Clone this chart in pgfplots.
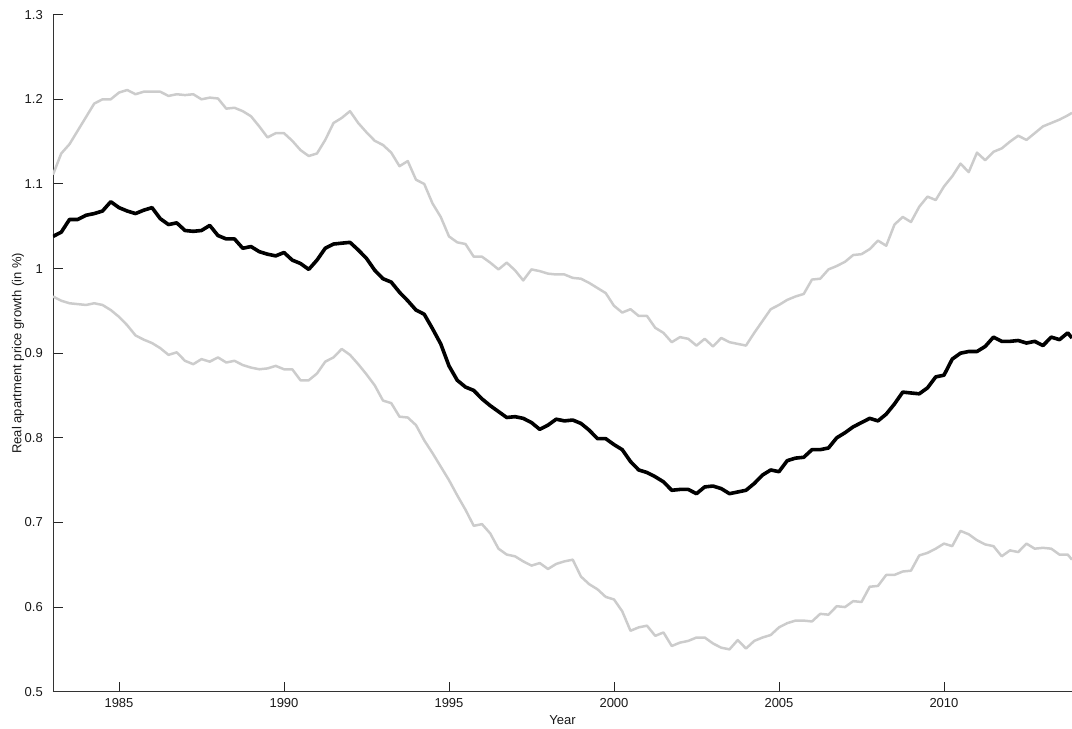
\documentclass[border=0pt]{standalone}
\usepackage{pgfplots}
\pgfplotsset{compat=1.18}
\usepackage{pgfplotstable}
\usepackage{fontspec}
\setmainfont{Liberation Sans}

\definecolor{bandgray}{RGB}{204,204,204}

% quarterly values: lower band, estimate, upper band
\pgfplotstableread{
year     lo     mid    hi
1983.00  0.967  1.038  1.111
1983.25  0.962  1.043  1.136
1983.50  0.959  1.058  1.147
1983.75  0.958  1.058  1.163
1984.00  0.957  1.063  1.179
1984.25  0.959  1.065  1.195
1984.50  0.957  1.068  1.200
1984.75  0.951  1.079  1.200
1985.00  0.943  1.072  1.208
1985.25  0.933  1.068  1.211
1985.50  0.921  1.065  1.206
1985.75  0.916  1.069  1.209
1986.00  0.912  1.072  1.209
1986.25  0.906  1.059  1.209
1986.50  0.898  1.052  1.204
1986.75  0.901  1.054  1.206
1987.00  0.891  1.045  1.205
1987.25  0.887  1.044  1.206
1987.50  0.893  1.045  1.200
1987.75  0.890  1.051  1.202
1988.00  0.895  1.039  1.201
1988.25  0.889  1.035  1.189
1988.50  0.891  1.035  1.190
1988.75  0.886  1.024  1.186
1989.00  0.883  1.026  1.180
1989.25  0.881  1.020  1.168
1989.50  0.882  1.017  1.155
1989.75  0.885  1.015  1.160
1990.00  0.881  1.019  1.160
1990.25  0.881  1.010  1.151
1990.50  0.868  1.006  1.140
1990.75  0.868  0.999  1.133
1991.00  0.876  1.010  1.136
1991.25  0.890  1.024  1.152
1991.50  0.895  1.029  1.172
1991.75  0.905  1.030  1.178
1992.00  0.898  1.031  1.186
1992.25  0.887  1.022  1.172
1992.50  0.875  1.012  1.161
1992.75  0.862  0.998  1.151
1993.00  0.844  0.988  1.146
1993.25  0.841  0.984  1.137
1993.50  0.825  0.972  1.121
1993.75  0.824  0.962  1.127
1994.00  0.815  0.951  1.105
1994.25  0.797  0.946  1.100
1994.50  0.782  0.929  1.077
1994.75  0.766  0.911  1.061
1995.00  0.750  0.885  1.038
1995.25  0.732  0.868  1.031
1995.50  0.715  0.860  1.029
1995.75  0.696  0.856  1.014
1996.00  0.698  0.846  1.014
1996.25  0.687  0.838  1.007
1996.50  0.669  0.831  0.999
1996.75  0.662  0.824  1.007
1997.00  0.660  0.825  0.998
1997.25  0.654  0.823  0.986
1997.50  0.649  0.818  0.999
1997.75  0.652  0.810  0.997
1998.00  0.645  0.815  0.994
1998.25  0.651  0.822  0.993
1998.50  0.654  0.820  0.993
1998.75  0.656  0.821  0.989
1999.00  0.636  0.817  0.988
1999.25  0.627  0.809  0.983
1999.50  0.621  0.799  0.977
1999.75  0.612  0.799  0.971
2000.00  0.609  0.792  0.956
2000.25  0.595  0.786  0.948
2000.50  0.572  0.772  0.952
2000.75  0.576  0.762  0.944
2001.00  0.578  0.759  0.944
2001.25  0.566  0.754  0.930
2001.50  0.570  0.748  0.924
2001.75  0.554  0.738  0.913
2002.00  0.558  0.739  0.919
2002.25  0.560  0.739  0.917
2002.50  0.564  0.734  0.909
2002.75  0.564  0.742  0.917
2003.00  0.557  0.743  0.908
2003.25  0.552  0.740  0.918
2003.50  0.550  0.734  0.913
2003.75  0.561  0.736  0.911
2004.00  0.551  0.738  0.909
2004.25  0.560  0.746  0.924
2004.50  0.564  0.756  0.938
2004.75  0.567  0.762  0.952
2005.00  0.576  0.760  0.957
2005.25  0.581  0.773  0.963
2005.50  0.584  0.776  0.967
2005.75  0.584  0.777  0.970
2006.00  0.583  0.786  0.987
2006.25  0.592  0.786  0.988
2006.50  0.591  0.788  0.999
2006.75  0.601  0.800  1.003
2007.00  0.600  0.806  1.008
2007.25  0.607  0.813  1.016
2007.50  0.606  0.818  1.017
2007.75  0.624  0.823  1.023
2008.00  0.625  0.820  1.033
2008.25  0.638  0.828  1.027
2008.50  0.638  0.840  1.052
2008.75  0.642  0.854  1.061
2009.00  0.643  0.853  1.055
2009.25  0.661  0.852  1.073
2009.50  0.664  0.859  1.085
2009.75  0.669  0.872  1.081
2010.00  0.675  0.874  1.097
2010.25  0.672  0.893  1.109
2010.50  0.690  0.900  1.124
2010.75  0.686  0.902  1.114
2011.00  0.679  0.902  1.137
2011.25  0.674  0.908  1.128
2011.50  0.672  0.919  1.138
2011.75  0.660  0.914  1.142
2012.00  0.667  0.914  1.150
2012.25  0.665  0.915  1.157
2012.50  0.675  0.912  1.152
2012.75  0.669  0.914  1.160
2013.00  0.670  0.909  1.168
2013.25  0.669  0.919  1.172
2013.50  0.662  0.916  1.176
2013.75  0.662  0.924  1.181
2013.88  0.656  0.918  1.184
}\pricedata

\newcommand{\labfont}{\fontsize{13}{15}\selectfont}

\begin{document}
\begin{tikzpicture}
\begin{axis}[
    name=ax,
    at={(0,0)}, anchor=south west,
    width=1019pt, height=677pt, scale only axis,
    xmin=1983, xmax=2013.88,
    ymin=0.5, ymax=1.3,
    axis lines=left,
    axis line style={-, black!80, line width=0.9pt},
    tick align=inside,
    major tick length=10pt,
    every tick/.style={black!85, line width=0.9pt},
    xtick={1985,1990,1995,2000,2005,2010},
    ytick={0.5,0.6,0.7,0.8,0.9,1,1.1,1.2,1.3},
    /pgf/number format/1000 sep={},
    /pgf/number format/assume math mode=true,
    yticklabel style={font=\labfont, text=black!90, inner sep=0pt, anchor=east, xshift=-10pt},
    xticklabel style={font=\labfont, text=black!90, inner sep=0pt, anchor=north, yshift=-7pt},
    xlabel={\labfont Year},
    ylabel={\labfont Real apartment price growth (in \%)},
    every axis x label/.style={at={(axis description cs:0.5,-0.0414)}, anchor=center, text=black!90},
    every axis y label/.style={at={(axis description cs:-0.0343,0.5)}, rotate=90, anchor=center, text=black!90},
    line join=round,
]
\addplot[bandgray, line width=2.5pt] table[x=year, y=hi] {\pricedata};
\addplot[bandgray, line width=2.5pt] table[x=year, y=lo] {\pricedata};
\addplot[black, line width=3.6pt] table[x=year, y=mid] {\pricedata};
\end{axis}
\pgfresetboundingbox
\useasboundingbox ([shift={(-53pt,-37pt)}]ax.south west) rectangle ([shift={(0pt,14.7pt)}]ax.north east);
\end{tikzpicture}
\end{document}
